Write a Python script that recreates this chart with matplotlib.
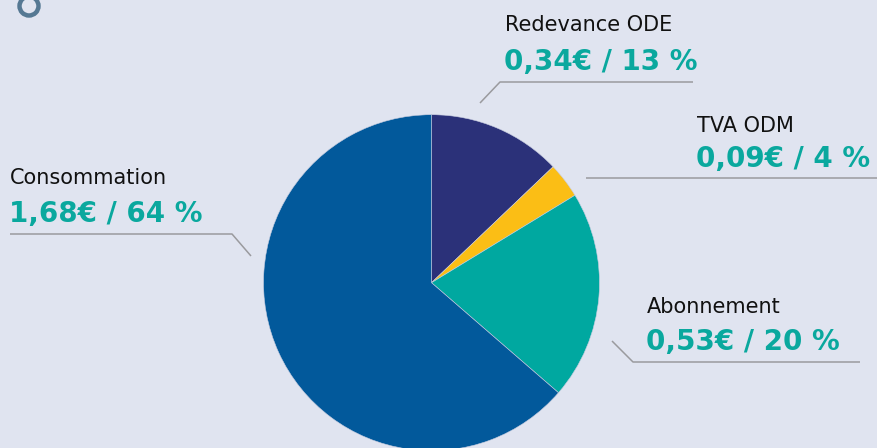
import matplotlib
matplotlib.use("Agg")
import matplotlib.pyplot as plt
from matplotlib.patches import Circle

#- Data
labels = ['Redevance ODE', 'TVA ODM', 'Abonnement', 'Consommation']
euros = [0.34, 0.09, 0.53, 1.68]
percents = [13, 4, 20, 64]
colors = ['#2b3179', '#fbbe15', '#00a8a0', '#02599b']

W, H = 878, 448
bg = '#e0e4f0'
teal = '#0aa89e'
grey = '#9a9a9e'

fig = plt.figure(figsize=(W / 100, H / 100), dpi=100, facecolor=bg)
ax = fig.add_axes([0, 0, 1, 1])
ax.set_facecolor(bg)

#- pie (pixel coords, y measured from bottom)
ax.pie(euros, colors=colors, startangle=90, counterclock=False,
       center=(431.5, H - 282.7), radius=168, frame=True,
       wedgeprops=dict(edgecolor='#c8cde0', linewidth=0.4))
ax.set_xlim(0, W)
ax.set_ylim(0, H)
ax.set_aspect('equal', adjustable='box')
ax.axis('off')

#- leader lines (pixel coords from top)
leaders = [
    [(480, 103), (500, 82), (693, 82)],
    [(586, 178), (878, 178)],
    [(10, 234), (232, 234), (251, 256)],
    [(612, 341), (633, 362), (860, 362)],
]
for pts in leaders:
    ax.plot([p[0] for p in pts], [H - p[1] for p in pts], color=grey, lw=1.1,
            solid_capstyle='butt')

#- label positions: (x, label baseline, value baseline) in pixels from top
pos = [(505, 31, 70), (697, 132, 167), (647, 313, 350), (10, 184, 222)]
for lab, e, p, (x, yb1, yb2) in zip(labels, euros, percents, pos):
    val = '{:.2f}€ / {} %'.format(e, p).replace('.', ',')
    fig.text(x / W, 1 - yb1 / H, lab, fontsize=15, color='#111111',
             va='baseline', ha='left', family='DejaVu Sans')
    fig.text(x / W - 0.001, 1 - yb2 / H, val, fontsize=20, color=teal,
             fontweight='bold', va='baseline', ha='left', family='DejaVu Sans')

#- ring icon at top left (cut off by figure edge)
ax.add_patch(Circle((29, H - 6), 9.5, fill=False, edgecolor='#557893', lw=3.2,
                    clip_on=False))

fig.savefig('out.png', dpi=100, facecolor=bg)
